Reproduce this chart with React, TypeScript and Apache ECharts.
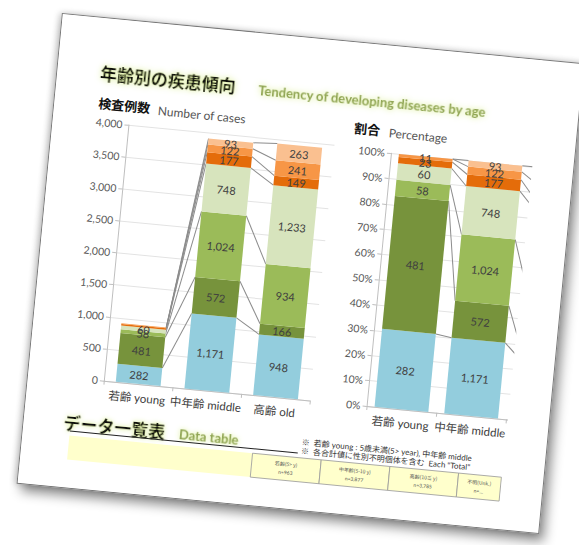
import React, { useEffect, useRef } from 'react';
import * as echarts from 'echarts';

// ---- data ----
const categories = ['若齢 young', '中年齢 middle', '高齢 old'];
const blueVals = [282, 1171, 948];
const darkGreenVals = [481, 572, 166];
const greenVals = [58, 1024, 934];
const lightGreenVals = [60, 748, 1233];
const darkOrangeVals = [23, 177, 149];
const orangeVals = [11, 122, 241];
const peachVals = [0, 93, 263];
const countTicks = [0, 500, 1000, 1500, 2000, 2500, 3000, 3500, 4000];
const pctTicks = [0, 10, 20, 30, 40, 50, 60, 70, 80, 90, 100];
const tableHeads = ['若齢(5> y)', '中年齢(5-10 y)', '高齢(10≦ y)', '不明(Unk.)'];
const tableCounts = ['n=963', 'n=3,877', 'n=3,785', 'n=…'];
// the right-hand chart is cut by the page edge after the middle category
const visiblePctCategories = 2;

const stackVals = [blueVals, darkGreenVals, greenVals, lightGreenVals, darkOrangeVals, orangeVals, peachVals];
const colors = ['#93cddd', '#77933c', '#9bbb59', '#d7e4bd', '#e46c0a', '#f79646', '#fac090'];

const FONT = 'Lato, "Noto Sans CJK JP", sans-serif';
const JP = '"Noto Sans CJK JP", sans-serif';

const fmt = (v: number) => v.toLocaleString('en-US');

const totals = categories.map((_, i) => stackVals.reduce((s, a) => s + a[i], 0));
const pctVals = stackVals.map((a) => a.map((v, i) => (v / totals[i]) * 100));

function cumulative(arrs: number[][]) {
  const out: number[][] = [];
  let run = categories.map(() => 0);
  for (const a of arrs) {
    run = run.map((r, i) => r + a[i]);
    out.push(run.slice());
  }
  return out;
}

function linkData(arrs: number[][]) {
  const cum = cumulative(arrs);
  const d: number[][] = [];
  cum.forEach((c) => {
    for (let i = 0; i < categories.length - 1; i++) d.push([i, c[i], c[i + 1]]);
  });
  return d;
}

const BW0 = 45;
const BW1 = 54;

function linkSeries(idx: number, arrs: number[][], hw: number) {
  return {
    type: 'custom',
    xAxisIndex: idx,
    yAxisIndex: idx,
    data: linkData(arrs),
    encode: { x: 0, y: [1, 2] },
    silent: true,
    z: 1,
    renderItem: (params: any, api: any) => {
      const i = api.value(0) as number;
      const a = api.coord([i, api.value(1)]);
      const b = api.coord([i + 1, api.value(2)]);
      return {
        type: 'line',
        shape: { x1: a[0] + hw, y1: a[1], x2: b[0] - hw, y2: b[1] },
        style: { stroke: '#8c8c8c', lineWidth: 1 },
      };
    },
  };
}

const xAxisBase = (gridIndex: number, visible: number) => ({
  type: 'category',
  data: categories,
  gridIndex,
  axisLine: { lineStyle: { color: '#bfbfbf' } },
  axisTick: { show: true, length: 4, lineStyle: { color: '#bfbfbf' } },
  axisLabel: {
    color: '#404040',
    fontSize: 11.5,
    fontFamily: FONT,
    margin: 8,
    interval: 0,
    formatter: (v: string, i: number) => (i < visible ? v : ''),
  },
});

const yAxisBase = (gridIndex: number, ticks: number[], formatter: (v: number) => string) => ({
  type: 'value',
  gridIndex,
  min: ticks[0],
  max: ticks[ticks.length - 1],
  interval: ticks[1] - ticks[0],
  axisLine: { show: true, lineStyle: { color: '#bfbfbf' } },
  axisTick: { show: true, length: 4, lineStyle: { color: '#bfbfbf' } },
  axisLabel: { color: '#595959', fontSize: 10.5, fontFamily: FONT, margin: 6, formatter },
  splitLine: { lineStyle: { color: '#e3e3e3' } },
});

const leftBars = stackVals.map((vals, k) => ({
  type: 'bar',
  xAxisIndex: 0,
  yAxisIndex: 0,
  stack: 'count',
  barWidth: BW0,
  z: 2,
  data: vals,
  itemStyle: { color: colors[k] },
  label: {
    show: true,
    position: 'inside',
    color: '#404040',
    fontSize: 11,
    fontFamily: FONT,
    formatter: (p: any) => (vals[p.dataIndex] >= 50 ? fmt(vals[p.dataIndex]) : ''),
  },
}));

const rightBars = pctVals.map((vals, k) => ({
  type: 'bar',
  xAxisIndex: 1,
  yAxisIndex: 1,
  stack: 'pct',
  barWidth: BW1,
  z: 2,
  data: vals,
  itemStyle: { color: colors[k] },
  label: {
    show: true,
    position: 'inside',
    color: '#404040',
    fontSize: 11,
    fontFamily: FONT,
    formatter: (p: any) =>
      p.dataIndex < visiblePctCategories && stackVals[k][p.dataIndex] > 0 ? fmt(stackVals[k][p.dataIndex]) : '',
  },
}));

const cellX = [231, 300, 369, 438];
const cellW = [69, 69, 69, 43];
const tableGraphics: any[] = [
  { type: 'rect', shape: { x: 47, y: 419, width: 184, height: 24 }, style: { fill: '#ffffcc' } },
];
tableHeads.forEach((h, i) => {
  tableGraphics.push({
    type: 'rect',
    shape: { x: cellX[i], y: 419, width: cellW[i], height: 24 },
    style: { fill: '#ffffcc', stroke: '#9a9a9a', lineWidth: 0.8 },
  });
  tableGraphics.push({
    type: 'text',
    x: cellX[i] + cellW[i] / 2,
    y: 426,
    style: { text: h, fontSize: 5, fontFamily: JP, fill: '#555', align: 'center', verticalAlign: 'middle' },
  });
  tableGraphics.push({
    type: 'text',
    x: cellX[i] + cellW[i] / 2,
    y: 435,
    style: { text: tableCounts[i], fontSize: 5, fontFamily: FONT, fill: '#555', align: 'center', verticalAlign: 'middle' },
  });
});

const glow = 'rgba(214,236,130,0.95)';

const option: any = {
  animation: false,
  backgroundColor: '#ffffff',
  grid: [
    { left: 76, top: 104, width: 207, height: 257 },
    { left: 340, top: 107, width: 210, height: 254 },
  ],
  xAxis: [xAxisBase(0, categories.length), xAxisBase(1, visiblePctCategories)],
  yAxis: [
    yAxisBase(0, countTicks, (v: number) => fmt(v)),
    yAxisBase(1, pctTicks, (v: number) => v + '%'),
  ],
  series: [
    linkSeries(0, stackVals, BW0 / 2),
    linkSeries(1, pctVals, BW1 / 2),
    ...leftBars,
    ...rightBars,
  ],
  graphic: [
    {
      type: 'text', x: 43, y: 54,
      style: { text: '年齢別の疾患傾向', fontSize: 17, fontWeight: 'bold', fontFamily: JP, fill: '#111', verticalAlign: 'middle', textShadowColor: glow, textShadowBlur: 6 },
    },
    {
      type: 'text', x: 202, y: 57,
      style: { text: 'Tendency of developing diseases by age', fontSize: 13, fontWeight: 'bold', fontFamily: FONT, fill: '#8fa452', verticalAlign: 'middle', textShadowColor: glow, textShadowBlur: 6 },
    },
    {
      type: 'text', x: 44, y: 85,
      style: { text: '検査例数', fontSize: 13, fontWeight: 'bold', fontFamily: JP, fill: '#111', verticalAlign: 'middle' },
    },
    {
      type: 'text', x: 104, y: 87,
      style: { text: 'Number of cases', fontSize: 12, fontFamily: FONT, fill: '#555', verticalAlign: 'middle' },
    },
    {
      type: 'text', x: 301, y: 85,
      style: { text: '割合', fontSize: 13, fontWeight: 'bold', fontFamily: JP, fill: '#111', verticalAlign: 'middle' },
    },
    {
      type: 'text', x: 336, y: 87,
      style: { text: 'Percentage', fontSize: 12, fontFamily: FONT, fill: '#555', verticalAlign: 'middle' },
    },
    {
      type: 'text', x: 40, y: 405,
      style: { text: 'データ一覧表', fontSize: 17, fontWeight: 'bold', fontFamily: JP, fill: '#111', verticalAlign: 'middle', textShadowColor: glow, textShadowBlur: 5 },
    },
    {
      type: 'text', x: 156, y: 407,
      style: { text: 'Data table', fontSize: 13, fontWeight: 'bold', fontFamily: FONT, fill: '#8fa452', verticalAlign: 'middle', textShadowColor: glow, textShadowBlur: 5 },
    },
    {
      type: 'line', shape: { x1: 47, y1: 414.5, x2: 276, y2: 414.5 }, style: { stroke: '#222', lineWidth: 1 },
    },
    {
      type: 'text', x: 279, y: 403,
      style: { text: '※  若齢 young : 5歳未満(5> year), 中年齢 middle', fontSize: 8, fontFamily: FONT, fill: '#333', verticalAlign: 'middle' },
    },
    {
      type: 'text', x: 279, y: 412,
      style: { text: '※  各合計値に性別不明個体を含む  Each "Total"', fontSize: 8, fontFamily: FONT, fill: '#333', verticalAlign: 'middle' },
    },
    ...tableGraphics,
  ],
};

export default function App() {
  const ref = useRef<HTMLDivElement>(null);
  useEffect(() => {
    if (!ref.current) return;
    const chart = echarts.init(ref.current, null, { renderer: 'svg' });
    chart.setOption(option);
    return () => chart.dispose();
  }, []);
  return (
    <div style={{ position: 'fixed', left: 0, top: 0, width: 579, height: 545, background: '#fff', overflow: 'hidden' }}>
      <div
        style={{
          position: 'absolute',
          left: 37.5,
          top: 36.5,
          width: 525,
          height: 473,
          boxSizing: 'border-box',
          background: '#fff',
          border: '1px solid #7a7a7a',
          boxShadow: '5px 7px 12px rgba(0,0,0,0.45), -2px 0 6px rgba(0,0,0,0.2)',
          transform: 'rotate(5.5deg)',
          transformOrigin: '50% 50%',
        }}
      >
        <div style={{ position: 'absolute', left: 0, top: 0, width: 482, height: 471, overflow: 'hidden' }}>
          <div ref={ref} style={{ width: 600, height: 471 }} />
        </div>
      </div>
    </div>
  );
}
